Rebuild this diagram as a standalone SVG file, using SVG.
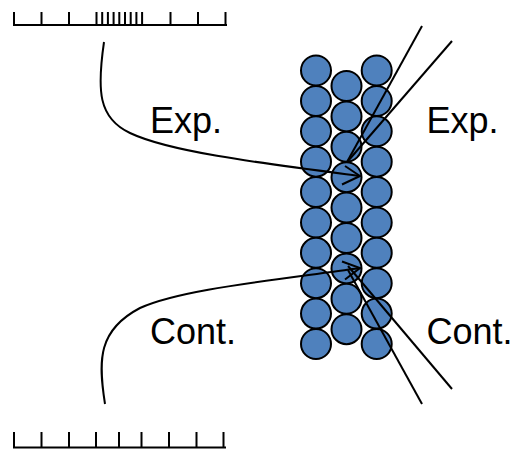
<svg xmlns="http://www.w3.org/2000/svg" width="516" height="452" viewBox="0 0 516 452">
  <style>
    .bead { fill: #4F81BD; stroke: #000; stroke-width: 2; }
    .line { fill: none; stroke: #000; stroke-width: 2; }
    .tick { stroke: #000; stroke-width: 2; }
    .label { font-family: "Liberation Sans", Arial, sans-serif; font-size: 36px; fill: #000; }
  </style>
  <defs>
    <circle id="b" r="15" class="bead"/>
  </defs>

  <!-- top scale: dense ticks in the middle -->
  <g id="scale-top">
    <line class="tick" x1="13" y1="25" x2="227" y2="25"/>
    <path class="tick" d="M14,12V25M41.5,12V25M69,12V25M96.5,12V25M102.2,12V25M107.9,12V25M113.6,12V25M119.3,12V25M125,12V25M130.7,12V25M136.4,12V25M142.1,12V25M170.5,12V25M198,12V25M225.5,12V25"/>
  </g>

  <!-- bottom scale: even ticks -->
  <g id="scale-bottom">
    <line class="tick" x1="13" y1="447.5" x2="226" y2="447.5"/>
    <path class="tick" d="M14,432V447M41.5,432V447M69,432V447M96,432V447M119,432V447M141.5,432V447M169,432V447M196.5,432V447M223.5,432V447"/>
  </g>

  <!-- three stacked columns of beads -->
  <g id="column-left">
    <use href="#b" x="316" y="70.5"/>
    <use href="#b" x="316" y="101"/>
    <use href="#b" x="316" y="131.3"/>
    <use href="#b" x="316" y="161.7"/>
    <use href="#b" x="316" y="192"/>
    <use href="#b" x="316" y="222.5"/>
    <use href="#b" x="316" y="252.8"/>
    <use href="#b" x="316" y="283.2"/>
    <use href="#b" x="316" y="313.6"/>
    <use href="#b" x="316" y="344"/>
  </g>
  <g id="column-middle">
    <use href="#b" x="346.5" y="86"/>
    <use href="#b" x="346.5" y="116.4"/>
    <use href="#b" x="346.5" y="146.8"/>
    <use href="#b" x="346.5" y="177.2"/>
    <use href="#b" x="346.5" y="207.6"/>
    <use href="#b" x="346.5" y="238"/>
    <use href="#b" x="346.5" y="268.4"/>
    <use href="#b" x="346.5" y="298.8"/>
    <use href="#b" x="346.5" y="329.2"/>
  </g>
  <g id="column-right">
    <use href="#b" x="376.7" y="70.5"/>
    <use href="#b" x="376.7" y="101"/>
    <use href="#b" x="376.7" y="131.3"/>
    <use href="#b" x="376.7" y="161.7"/>
    <use href="#b" x="376.7" y="192"/>
    <use href="#b" x="376.7" y="222.5"/>
    <use href="#b" x="376.7" y="252.8"/>
    <use href="#b" x="376.7" y="283.2"/>
    <use href="#b" x="376.7" y="313.6"/>
    <use href="#b" x="376.7" y="344"/>
  </g>

  <g id="labels">
    <text class="label" x="150" y="133">Exp.</text>
    <text class="label" x="426.5" y="133">Exp.</text>
    <text class="label" x="150" y="343.5">Cont.</text>
    <text class="label" x="426.5" y="343.5">Cont.</text>
  </g>

  <g id="connectors">
    <!-- curve from the dense scale into the bead column -->
    <path class="line" d="M104,42 C97,90 98,118 130,133 C170,152 260,163 360,176"/>
    <path class="line" d="M345,166 L360,176 L342,184.5"/>
    <!-- curve from the even scale into the bead column -->
    <path class="line" d="M105,404 C98,360 98,330 140,308 C180,290 260,282 360,268"/>
    <path class="line" d="M342,261.5 L360,268 L345,279.5"/>
    <!-- rays leaving the column -->
    <line class="line" x1="422" y1="26" x2="347" y2="162"/>
    <line class="line" x1="452" y1="41" x2="348" y2="161"/>
    <line class="line" x1="348" y1="266" x2="452" y2="389"/>
    <line class="line" x1="348" y1="270" x2="422" y2="404"/>
  </g>
</svg>
